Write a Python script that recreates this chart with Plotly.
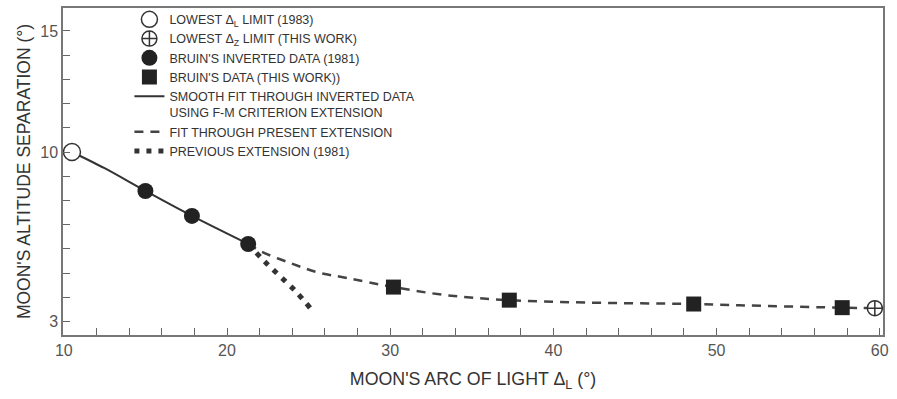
import plotly.graph_objects as go

# ---- data ----
lowest_1983_x = [10.5]
lowest_1983_y = [10.0]

lowest_this_x = [59.7]
lowest_this_y = [3.55]

bruin_inv_x = [15.0, 17.85, 21.3]
bruin_inv_y = [8.39, 7.36, 6.2]

bruin_this_x = [30.2, 37.3, 48.6, 57.7]
bruin_this_y = [4.42, 3.88, 3.72, 3.57]

smooth_x = [10.5, 12.5, 15.0, 17.85, 21.3]
smooth_y = [10.0, 9.33, 8.39, 7.36, 6.2]

present_x = [21.3, 22.15, 23.9, 25.5, 27.4, 30.2, 33.5, 37.3, 42.0, 48.6, 53.0, 57.7, 59.7]
present_y = [6.2, 5.87, 5.41, 5.04, 4.79, 4.42, 4.08, 3.88, 3.78, 3.72, 3.64, 3.57, 3.55]

previous_x = [21.3, 22.2, 23.2, 24.2, 25.1]
previous_y = [6.2, 5.55, 4.9, 4.25, 3.55]

x_tick_vals = [10, 20, 30, 40, 50, 60]
x_tick_text = ["10", "20", "30", "40", "50", "60"]
y_tick_vals = [3, 10, 15]
y_tick_text = ["3", "10", "15"]

FONT = "Liberation Sans, Arial, sans-serif"
INK = "#222222"

fig = go.Figure()

# lines first (drawn beneath markers)
fig.add_trace(go.Scatter(x=smooth_x, y=smooth_y, mode="lines",
                         line=dict(color="#333333", width=2, shape="spline", smoothing=0.8),
                         name="SMOOTH FIT THROUGH INVERTED DATA<br>USING F-M CRITERION EXTENSION",
                         legendrank=5))
fig.add_trace(go.Scatter(x=present_x, y=present_y, mode="lines",
                         line=dict(color="#444444", width=2.5, dash="9px,7px", shape="spline"),
                         name="FIT THROUGH PRESENT EXTENSION", legendrank=6))
fig.add_trace(go.Scatter(x=previous_x, y=previous_y, mode="lines",
                         line=dict(color="#333333", width=5, dash="5px,7px", shape="spline"),
                         name="PREVIOUS EXTENSION (1981)", legendrank=7))

fig.add_trace(go.Scatter(x=lowest_1983_x, y=lowest_1983_y, mode="markers",
                         marker=dict(symbol="circle", size=17, color="white",
                                     line=dict(color="#333333", width=1.5)),
                         name="LOWEST Δ<sub>L</sub> LIMIT (1983)", legendrank=1))
fig.add_trace(go.Scatter(x=lowest_this_x, y=lowest_this_y, mode="markers",
                         marker=dict(symbol="circle-cross", size=15, color="white",
                                     line=dict(color="#333333", width=1.5)),
                         name="LOWEST Δ<sub>Z</sub> LIMIT (THIS WORK)", legendrank=2))
fig.add_trace(go.Scatter(x=bruin_inv_x, y=bruin_inv_y, mode="markers",
                         marker=dict(symbol="circle", size=16, color=INK),
                         name="BRUIN'S INVERTED DATA (1981)", legendrank=3))
fig.add_trace(go.Scatter(x=bruin_this_x, y=bruin_this_y, mode="markers",
                         marker=dict(symbol="square", size=15, color=INK),
                         name="BRUIN'S DATA (THIS WORK))", legendrank=4))

axis_common = dict(showline=True, linecolor="#777777", linewidth=1.5, mirror=True,
                   ticks="inside", ticklen=7, tickcolor="#666666", tickwidth=1.2,
                   showgrid=False, zeroline=False,
                   tickfont=dict(family=FONT, size=16, color="#555555"))

fig.update_xaxes(range=[9.95, 60.2], tickmode="array", tickvals=x_tick_vals,
                 ticktext=x_tick_text,
                 minor=dict(tickmode="linear", tick0=10, dtick=2, ticks="inside",
                            ticklen=7, tickcolor="#666666", tickwidth=1.2, showgrid=False),
                 title=dict(text="MOON'S ARC OF LIGHT Δ<sub>L</sub> (°)",
                            font=dict(family=FONT, size=17.8, color="#333333"), standoff=15),
                 **axis_common)
fig.update_yaxes(range=[2.44, 15.95], tickmode="array", tickvals=y_tick_vals,
                 ticktext=y_tick_text,
                 minor=dict(tickmode="linear", tick0=3, dtick=1, ticks="inside",
                            ticklen=7, tickcolor="#666666", tickwidth=1.2, showgrid=False),
                 title=dict(text="MOON'S ALTITUDE SEPARATION (°)",
                            font=dict(family=FONT, size=17.5, color="#333333"), standoff=5),
                 **axis_common)

fig.update_layout(
    width=897, height=399,
    margin=dict(l=63, r=14, t=8, b=64, autoexpand=False),
    paper_bgcolor="white", plot_bgcolor="white",
    font=dict(family=FONT, color="#333333"),
    legend=dict(x=0.081, y=1.01, xanchor="left", yanchor="top",
                bgcolor="rgba(0,0,0,0)", borderwidth=0, valign="top",
                tracegroupgap=0, traceorder="normal",
                font=dict(family=FONT, size=12.5, color="#333333")),
    showlegend=True,
)

fig.write_html("out.html", config={"displayModeBar": False},
               post_script="document.body.style.margin='0';document.body.style.overflow='hidden';")
